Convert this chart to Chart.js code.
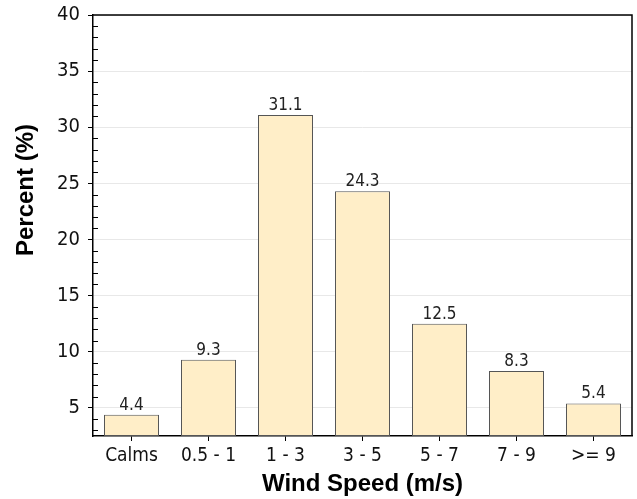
<!DOCTYPE html>
<html>
<head>
<meta charset="utf-8">
<script src="https://cdn.jsdelivr.net/npm/chart.js@4/dist/chart.umd.min.js"></script>
<style>
  html, body { margin: 0; padding: 0; background: #fff; }
  #wrap { width: 637px; height: 499px; }
</style>
</head>
<body>
<div id="wrap"><canvas id="chart" width="637" height="499"></canvas></div>
<script>
const categories = ['Calms', '0.5 - 1', '1 - 3', '3 - 5', '5 - 7', '7 - 9', '>= 9'];
const percents = [4.4, 9.3, 31.1, 24.3, 12.5, 8.3, 5.4];
const yMajorTicks = [5, 10, 15, 20, 25, 30, 35, 40];
const yMinorTicks = [3, 4, 6, 7, 8, 9, 11, 12, 13, 14, 16, 17, 18, 19, 21, 22, 23, 24,
    26, 27, 28, 29, 31, 32, 33, 34, 36, 37, 38, 39];
const yMin = 2.5;
const yMax = 40;
const yTitle = 'Percent (%)';

const tickFont = '"DejaVu Sans Condensed", "DejaVu Sans", sans-serif';
const titleFont = '"Liberation Sans", Arial, sans-serif';

// frame on top/right, minor ticks inside the y axis, value labels, y title
const extras = {
    id: 'extras',
    afterDraw(chart) {
        const ctx = chart.ctx;
        const area = chart.chartArea;
        const y = chart.scales.y;

        ctx.save();
        ctx.strokeStyle = '#000';
        ctx.lineWidth = 1.5;
        ctx.beginPath();
        ctx.moveTo(area.left, area.top);
        ctx.lineTo(area.right, area.top);
        ctx.lineTo(area.right, area.bottom);
        ctx.stroke();

        ctx.lineWidth = 1;
        ctx.beginPath();
        yMinorTicks.forEach(v => {
            const py = Math.round(y.getPixelForValue(v)) + 0.5;
            ctx.moveTo(area.left, py);
            ctx.lineTo(area.left + 5, py);
        });
        ctx.stroke();

        ctx.fillStyle = '#222';
        ctx.font = '17px ' + tickFont;
        ctx.textAlign = 'center';
        ctx.textBaseline = 'alphabetic';
        chart.getDatasetMeta(0).data.forEach((bar, i) => {
            ctx.fillText(percents[i].toFixed(1), bar.x, bar.y - 5);
        });

        // axis title sits above the middle of the axis in the original
        ctx.fillStyle = '#000';
        ctx.font = 'bold 24px ' + titleFont;
        ctx.translate(26, 190);
        ctx.rotate(-Math.PI / 2);
        ctx.textBaseline = 'middle';
        ctx.fillText(yTitle, 0, 0);
        ctx.restore();
    }
};

const ctx = document.getElementById('chart').getContext('2d');
const chart = new Chart(ctx, {
    type: 'bar',
    data: {
        labels: categories,
        datasets: [{
            data: percents,
            base: yMin,
            backgroundColor: '#FFEEC8',
            borderColor: '#555',
            borderWidth: 1,
            borderSkipped: false,
            barPercentage: 0.714,
            categoryPercentage: 1
        }]
    },
    options: {
        responsive: false,
        animation: false,
        events: [],
        layout: { padding: { top: 15, right: 5, left: 0, bottom: 0 } },
        plugins: {
            legend: { display: false },
            tooltip: { enabled: false }
        },
        scales: {
            x: {
                offset: true,
                grid: {
                    offset: false,
                    drawOnChartArea: false,
                    tickLength: 5,
                    tickColor: '#000'
                },
                border: { color: '#000', width: 1.5 },
                ticks: {
                    color: '#111',
                    padding: 4,
                    maxRotation: 0,
                    font: { family: tickFont, size: 19 }
                },
                title: {
                    display: true,
                    text: 'Wind Speed (m/s)',
                    color: '#000',
                    padding: { top: 0, bottom: 0 },
                    font: { family: titleFont, size: 24, weight: 'bold' }
                },
                afterFit(scale) { scale.height = 63; }
            },
            y: {
                min: yMin,
                max: yMax,
                afterBuildTicks(scale) {
                    scale.ticks = yMajorTicks.map(v => ({ value: v }));
                },
                grid: {
                    color: '#e8e8e8',
                    tickColor: '#000',
                    tickLength: 5
                },
                border: { color: '#000', width: 1.5 },
                ticks: {
                    color: '#111',
                    padding: 8,
                    font: { family: tickFont, size: 20 }
                },
                afterFit(scale) {
                    scale.width = 93;
                    scale.paddingTop = 0;
                    scale.paddingBottom = 0;
                }
            }
        }
    },
    plugins: [extras]
});
</script>
</body>
</html>
